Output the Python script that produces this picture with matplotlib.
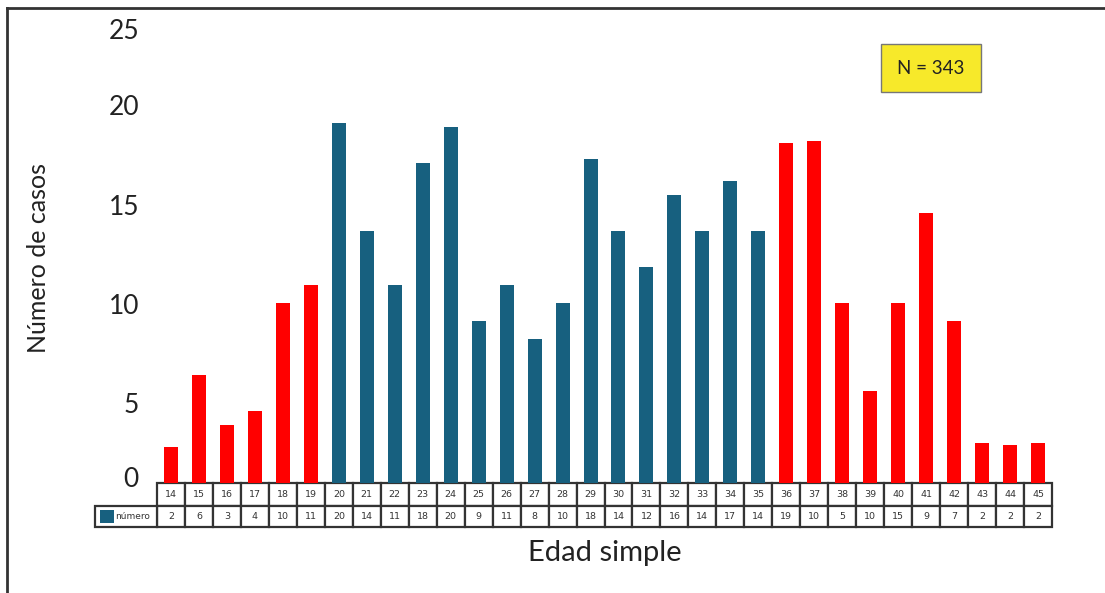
import matplotlib.pyplot as plt
from matplotlib.patches import Rectangle
import matplotlib.transforms as mtransforms
import numpy as np

plt.rcParams['font.family'] = ['Lato', 'DejaVu Sans']

# datos
edades = list(range(14, 46))
# alturas de las barras tal como aparecen dibujadas
alturas = [2, 6, 3.2, 4, 10, 11, 20, 14, 11, 17.8, 19.8, 9, 11, 8, 10, 18,
           14, 12, 16, 14, 16.8, 14, 18.9, 19, 10, 5.1, 10, 15, 9, 2.2, 2.1, 2.2]
# valores de la tabla de datos
numero = [2, 6, 3, 4, 10, 11, 20, 14, 11, 18, 20, 9, 11, 8, 10, 18,
          14, 12, 16, 14, 17, 14, 19, 10, 5, 10, 15, 9, 7, 2, 2, 2]
# etiquetas del eje y (en el original no caen exactamente sobre su valor)
ytick_pos = [0.33, 4.45, 9.95, 15.45, 21.0, 25.2]
ytick_lab = ['0', '5', '10', '15', '20', '25']
azul = '#17607f'
rojo = '#ff0000'
colores = [azul if 20 <= e <= 35 else rojo for e in edades]

W, H = 1105, 593
fig = plt.figure(figsize=(W / 100, H / 100), dpi=100)
ax = fig.add_axes([157 / W, (H - 483) / H, (1052 - 157) / W, (483 - 20) / H])

x = np.arange(len(edades))
ax.bar(x, alturas, width=0.5, color=colores, zorder=2)
ax.set_xlim(-0.5, len(edades) - 0.5)
ax.set_ylim(0, 463 / 18)
ax.set_yticks(ytick_pos, ytick_lab)
ax.tick_params(axis='y', length=0, pad=13, labelsize=19, labelcolor='#222222')
ax.set_xticks([])
for s in ax.spines.values():
    s.set_visible(False)

ax.set_ylabel('Número de casos', fontsize=18, color='#222222')
ax.yaxis.set_label_coords((50 - 157) / 895, (483 - 258) / 463)

# tabla de datos debajo del eje
trans = mtransforms.blended_transform_factory(ax.transData, ax.transAxes)
h1 = 23 / 463
h2 = 44 / 463
borde = '#333333'
for i, e in enumerate(edades):
    ax.add_patch(Rectangle((i - 0.5, -h1), 1, h1, transform=trans, facecolor='white',
                           edgecolor=borde, lw=1.6, clip_on=False))
    ax.add_patch(Rectangle((i - 0.5, -h2), 1, h2 - h1, transform=trans, facecolor='white',
                           edgecolor=borde, lw=1.6, clip_on=False))
    ax.text(i, -h1 / 2, str(e), transform=trans, ha='center', va='center',
            fontsize=6.8, color='#333333', family=['DejaVu Sans'])
    ax.text(i, -(h1 + h2) / 2, str(numero[i]), transform=trans, ha='center', va='center',
            fontsize=6.8, color='#333333', family=['DejaVu Sans'])

x_lab = -0.5 - 62 / 27.97
ax.add_patch(Rectangle((x_lab, -h2), -0.5 - x_lab, h2 - h1, transform=trans,
                       facecolor='white', edgecolor=borde, lw=1.6, clip_on=False))
ax.add_patch(Rectangle((x_lab + 0.18, -h2 + 0.009), 0.5, h2 - h1 - 0.018, transform=trans,
                       facecolor=azul, edgecolor='none', clip_on=False))
ax.text(x_lab + 0.72, -(h1 + h2) / 2, 'número', transform=trans, ha='left', va='center',
        fontsize=6.5, color='#333333', family=['DejaVu Sans'])

fig.text(605 / W, (H - 553) / H, 'Edad simple', ha='center', va='center',
         fontsize=21, color='#222222')

# recuadro N
fig.text(931 / W, (H - 68) / H, 'N = 343', ha='center', va='center', fontsize=13.5,
         color='#222222',
         bbox=dict(boxstyle='square,pad=0.85', facecolor='#f7e92a', edgecolor='#777777', lw=1))

# marco exterior (solo izquierda y arriba visibles)
fig.add_artist(plt.Line2D([7 / W, 7 / W], [0, (H - 8) / H], color='#333333', lw=2))
fig.add_artist(plt.Line2D([7 / W, 1], [(H - 8) / H, (H - 8) / H], color='#333333', lw=2))

fig.savefig('out.png', dpi=100)
